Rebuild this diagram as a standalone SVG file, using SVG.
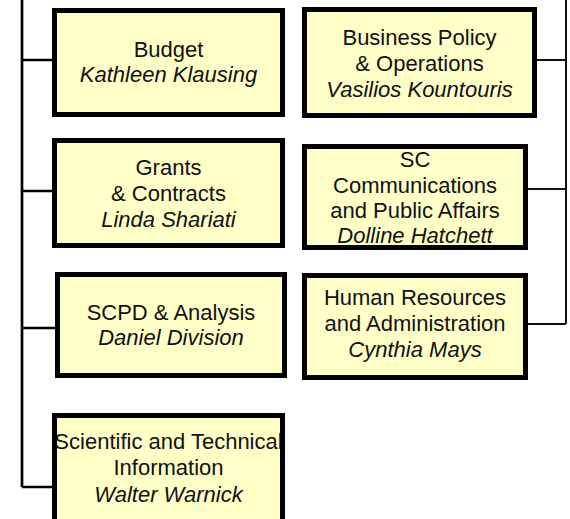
<svg xmlns="http://www.w3.org/2000/svg" width="570" height="519" viewBox="0 0 570 519">
<style>
.box{fill:#FFFFC8;stroke:#000;stroke-width:5}
.t{font-family:"Liberation Sans",Arial,sans-serif;font-size:22px;fill:#111;text-anchor:middle}
.i{font-style:italic}
.cl{stroke:#000;stroke-width:2.7;fill:none}
.cr{stroke:#111;stroke-width:2;fill:none}
</style>
<defs>
<clipPath id="clipSci"><rect x="57" y="418" width="223" height="105"/></clipPath>
</defs>
<rect width="570" height="519" fill="#fff"/>
<g id="connectors">
<path class="cl" d="M22,0 V487 M22,60 H52 M22,191 H52 M22,328 H55 M22,487 H52"/>
<path class="cr" d="M566,0 V324 M537,60 H566 M528,189 H566 M528,324 H566"/>
</g>
<g id="budget">
<rect class="box" x="54.5" y="10.5" width="228" height="104"/>
<text class="t" x="168.5" y="57">Budget</text>
<text class="t i" x="168.5" y="82">Kathleen Klausing</text>
</g>
<g id="grants">
<rect class="box" x="54.5" y="140.5" width="228" height="105"/>
<text class="t" x="168.5" y="175">Grants</text>
<text class="t" x="168.5" y="201">&amp; Contracts</text>
<text class="t i" x="168.5" y="227">Linda Shariati</text>
</g>
<g id="scpd">
<rect class="box" x="57.5" y="274.5" width="227" height="101"/>
<text class="t" x="171" y="320">SCPD &amp; Analysis</text>
<text class="t i" x="171" y="345">Daniel Division</text>
</g>
<g id="scitech">
<rect class="box" x="54.5" y="415.5" width="228" height="110"/>
<g clip-path="url(#clipSci)">
<text class="t" x="168.5" y="449">Scientific and Technical</text>
<text class="t" x="168.5" y="475">Information</text>
<text class="t i" x="168.5" y="502">Walter Warnick</text>
</g>
</g>
<g id="bizpol">
<rect class="box" x="304.5" y="9.5" width="230" height="106"/>
<text class="t" x="419.5" y="45">Business Policy</text>
<text class="t" x="419.5" y="71">&amp; Operations</text>
<text class="t i" x="419.5" y="97">Vasilios Kountouris</text>
</g>
<g id="sccomm">
<rect class="box" x="304.5" y="146.5" width="221" height="101"/>
<text class="t" x="415" y="167">SC</text>
<text class="t" x="415" y="193">Communications</text>
<text class="t" x="415" y="218">and Public Affairs</text>
<text class="t i" x="415" y="243">Dolline Hatchett</text>
</g>
<g id="hr">
<rect class="box" x="304.5" y="275.5" width="221" height="102"/>
<text class="t" x="415" y="305">Human Resources</text>
<text class="t" x="415" y="331">and Administration</text>
<text class="t i" x="415" y="357">Cynthia Mays</text>
</g>
</svg>
